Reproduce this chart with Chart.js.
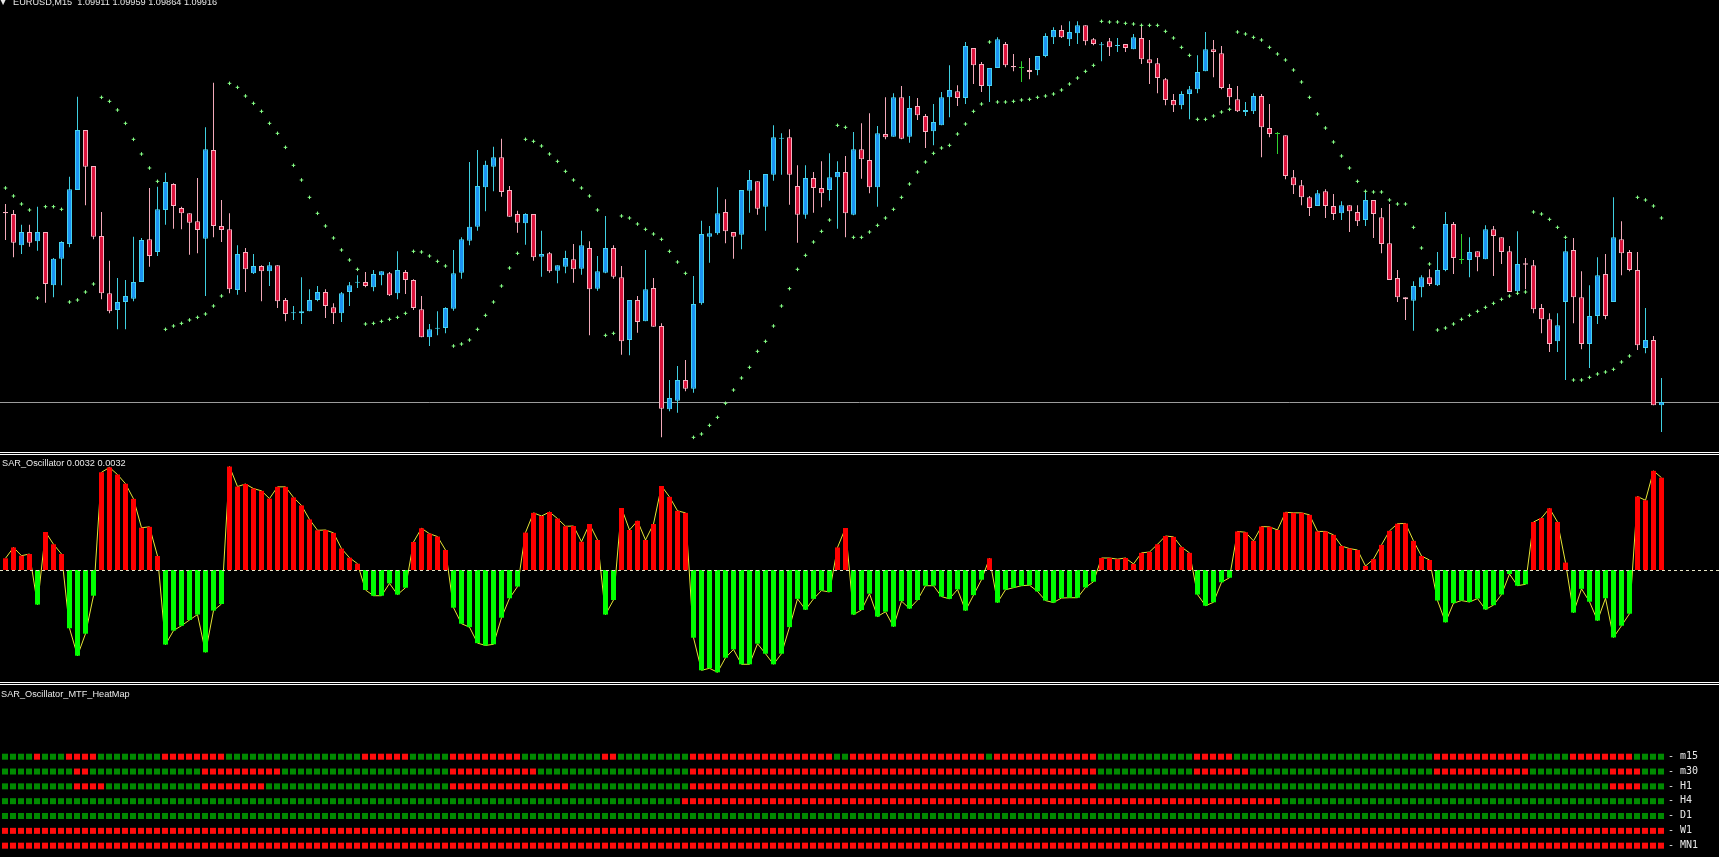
<!DOCTYPE html>
<html><head><meta charset="utf-8">
<script src="https://cdn.jsdelivr.net/npm/chart.js@4.4.1/dist/chart.umd.min.js"></script>
<style>
html,body{margin:0;padding:0;background:#000;}
#wrap{position:relative;width:1719px;height:857px;overflow:hidden;background:#000;}
canvas{position:absolute;left:0;display:block;}
.sep{position:absolute;left:0;width:1719px;height:1px;background:#fff;}
.lbl{position:absolute;white-space:pre;font-family:"Liberation Sans",Arial,sans-serif;font-size:9.2px;line-height:9.2px;color:#e8e8e8;}
.row{position:absolute;left:1668px;white-space:pre;font-family:"DejaVu Sans Mono",monospace;font-size:10px;line-height:10px;color:#e8e8e8;}
</style></head><body>
<div id="wrap">
<canvas id="main" width="1719" height="452" style="top:0;width:1719px;height:452px"></canvas>
<canvas id="osc" width="1719" height="227" style="top:455px;width:1719px;height:227px"></canvas>
<canvas id="heat" width="1719" height="171" style="top:686px;width:1719px;height:171px"></canvas>
<div class="sep" style="top:452px"></div>
<div class="sep" style="top:454px"></div>
<div class="sep" style="top:682px"></div>
<div class="sep" style="top:684px"></div>
<div class="lbl" style="left:0px;top:-3px;font-size:8px;font-family:'DejaVu Sans'">▼</div>
<div class="lbl" style="left:13px;top:-2px">EURUSD,M15  1.09911 1.09959 1.09864 1.09916</div>
<div class="lbl" style="left:2px;top:459px">SAR_Oscillator 0.0032 0.0032</div>
<div class="lbl" style="left:1px;top:690px">SAR_Oscillator_MTF_HeatMap</div>
<div id="rowlabels"></div>
</div>
<script>
// ---------- main chart data (EURUSD M15) ----------
const open = [
1.10201,1.10198,1.10151,1.10171,1.10157,1.10171,1.10091,1.10131,1.10153,1.10234,
1.10324,1.10270,1.10165,1.10079,1.10054,1.10066,1.10071,1.10096,1.10160,1.10141,
1.10204,1.10243,1.10207,1.10199,1.10187,1.10161,1.10294,1.10180,1.10175,1.10084,
1.10141,1.10109,1.10120,1.10112,1.10121,1.10069,1.10049,1.10049,1.10052,1.10069,
1.10081,1.10058,1.10049,1.10081,1.10095,1.10096,1.10088,1.10106,1.10109,1.10079,
1.10111,1.10099,1.10055,1.10013,1.10026,1.10027,1.10056,1.10110,1.10158,1.10179,
1.10238,1.10269,1.10283,1.10234,1.10198,1.10184,1.10198,1.10134,1.10139,1.10113,
1.10119,1.10130,1.10116,1.10147,1.10086,1.10110,1.10147,1.10103,1.10009,1.10069,
1.10037,1.10087,1.10030,1.09905,1.09918,1.09949,1.09936,1.10064,1.10164,1.10169,
1.10201,1.10171,1.10167,1.10233,1.10247,1.10209,1.10257,1.10311,1.10313,1.10240,
1.10197,1.10252,1.10237,1.10234,1.10253,1.10261,1.10197,1.10295,1.10279,1.10238,
1.10318,1.10314,1.10373,1.10314,1.10360,1.10345,1.10322,1.10331,1.10373,1.10382,
1.10372,1.10447,1.10423,1.10390,1.10417,1.10453,1.10420,1.10417,1.10414,1.10414,
1.10435,1.10463,1.10474,1.10460,1.10469,1.10481,1.10460,1.10451,1.10457,1.10450,
1.10453,1.10445,1.10462,1.10430,1.10424,1.10400,1.10369,1.10361,1.10378,1.10385,
1.10412,1.10445,1.10439,1.10387,1.10370,1.10351,1.10352,1.10375,1.10327,1.10318,
1.10316,1.10253,1.10241,1.10223,1.10210,1.10232,1.10210,1.10199,1.10211,1.10201,
1.10189,1.10219,1.10193,1.10154,1.10102,1.10073,1.10068,1.10088,1.10103,1.10091,
1.10114,1.10183,1.10129,1.10129,1.10142,1.10130,1.10175,1.10163,1.10142,1.10082,
1.10124,1.10121,1.10057,1.10040,1.10007,1.10066,1.10144,1.10073,1.10003,1.10045,
1.10108,1.10066,1.10160,1.10141,1.10114,1.09997,1.10009,1.09911];
const high = [
1.10213,1.10204,1.10182,1.10182,1.10209,1.10171,1.10132,1.10157,1.10254,1.10374,
1.10324,1.10270,1.10201,1.10128,1.10102,1.10099,1.10164,1.10162,1.10237,1.10239,
1.10260,1.10244,1.10209,1.10199,1.10252,1.10328,1.10395,1.10219,1.10199,1.10151,
1.10147,1.10138,1.10121,1.10126,1.10121,1.10072,1.10060,1.10103,1.10085,1.10090,
1.10085,1.10064,1.10081,1.10096,1.10106,1.10111,1.10114,1.10112,1.10111,1.10142,
1.10114,1.10100,1.10075,1.10033,1.10052,1.10058,1.10144,1.10163,1.10276,1.10294,
1.10278,1.10299,1.10311,1.10240,1.10203,1.10199,1.10198,1.10173,1.10141,1.10121,
1.10143,1.10153,1.10173,1.10157,1.10135,1.10195,1.10151,1.10120,1.10069,1.10075,
1.10144,1.10102,1.10034,1.09949,1.09970,1.09979,1.10105,1.10188,1.10180,1.10238,
1.10220,1.10171,1.10234,1.10264,1.10247,1.10258,1.10331,1.10319,1.10325,1.10271,
1.10271,1.10261,1.10277,1.10289,1.10277,1.10285,1.10321,1.10334,1.10349,1.10330,
1.10373,1.10379,1.10390,1.10375,1.10372,1.10348,1.10363,1.10381,1.10421,1.10391,
1.10456,1.10447,1.10426,1.10417,1.10463,1.10456,1.10438,1.10427,1.10432,1.10435,
1.10469,1.10478,1.10481,1.10487,1.10487,1.10481,1.10462,1.10456,1.10462,1.10462,
1.10453,1.10468,1.10481,1.10459,1.10432,1.10402,1.10378,1.10382,1.10390,1.10436,
1.10471,1.10459,1.10450,1.10393,1.10390,1.10366,1.10379,1.10378,1.10363,1.10321,
1.10316,1.10264,1.10249,1.10225,1.10234,1.10235,1.10228,1.10217,1.10211,1.10211,
1.10234,1.10219,1.10207,1.10213,1.10114,1.10073,1.10097,1.10106,1.10115,1.10141,
1.10201,1.10186,1.10168,1.10163,1.10142,1.10181,1.10180,1.10163,1.10150,1.10172,
1.10132,1.10129,1.10063,1.10049,1.10049,1.10159,1.10162,1.10112,1.10091,1.10133,
1.10138,1.10223,1.10187,1.10144,1.10141,1.10057,1.10015,1.09952];
const low = [
1.10159,1.10133,1.10138,1.10149,1.10143,1.10065,1.10073,1.10091,1.10148,1.10234,
1.10211,1.10160,1.10070,1.10049,1.10025,1.10025,1.10067,1.10096,1.10119,1.10135,
1.10182,1.10176,1.10175,1.10137,1.10139,1.10075,1.10163,1.10156,1.10079,1.10077,
1.10081,1.10108,1.10067,1.10090,1.10057,1.10037,1.10039,1.10033,1.10052,1.10067,
1.10042,1.10033,1.10036,1.10060,1.10087,1.10088,1.10082,1.10091,1.10075,1.10070,
1.10078,1.10054,1.10013,1.10000,1.10016,1.10019,1.10053,1.10101,1.10151,1.10173,
1.10202,1.10232,1.10224,1.10194,1.10170,1.10152,1.10128,1.10104,1.10110,1.10094,
1.10109,1.10095,1.10107,1.10016,1.10083,1.10109,1.10101,1.09987,1.09986,1.10020,
1.10037,1.10029,1.09863,1.09902,1.09900,1.09932,1.09930,1.10062,1.10125,1.10167,
1.10154,1.10131,1.10145,1.10200,1.10197,1.10173,1.10248,1.10257,1.10212,1.10155,
1.10191,1.10200,1.10208,1.10218,1.10176,1.10163,1.10196,1.10251,1.10229,1.10209,
1.10310,1.10314,1.10310,1.10305,1.10339,1.10297,1.10301,1.10331,1.10343,1.10360,
1.10363,1.10393,1.10381,1.10366,1.10417,1.10418,1.10412,1.10396,1.10400,1.10406,
1.10433,1.10453,1.10462,1.10450,1.10453,1.10451,1.10451,1.10427,1.10435,1.10441,
1.10441,1.10445,1.10423,1.10393,1.10379,1.10361,1.10351,1.10355,1.10340,1.10379,
1.10412,1.10403,1.10385,1.10361,1.10351,1.10345,1.10348,1.10283,1.10313,1.10288,
1.10250,1.10228,1.10211,1.10195,1.10210,1.10192,1.10189,1.10189,1.10171,1.10180,
1.10180,1.10162,1.10139,1.10099,1.10066,1.10039,1.10023,1.10073,1.10090,1.10090,
1.10112,1.10108,1.10123,1.10103,1.10112,1.10130,1.10105,1.10123,1.10081,1.10081,
1.10085,1.10049,1.10019,1.09991,1.09991,1.09949,1.10034,1.09995,1.09967,1.10033,
1.10040,1.10066,1.10106,1.10112,1.09994,1.09989,1.09911,1.09871];
const close = [
1.10199,1.10155,1.10171,1.10155,1.10171,1.10093,1.10131,1.10156,1.10235,1.10324,
1.10269,1.10164,1.10079,1.10052,1.10066,1.10075,1.10096,1.10159,1.10135,1.10205,
1.10246,1.10210,1.10199,1.10185,1.10174,1.10295,1.10180,1.10174,1.10085,1.10138,
1.10115,1.10120,1.10112,1.10121,1.10067,1.10048,1.10050,1.10052,1.10069,1.10081,
1.10060,1.10049,1.10079,1.10091,1.10096,1.10090,1.10108,1.10112,1.10076,1.10114,
1.10099,1.10057,1.10013,1.10025,1.10027,1.10057,1.10109,1.10160,1.10179,1.10240,
1.10272,1.10283,1.10231,1.10194,1.10185,1.10198,1.10133,1.10138,1.10112,1.10121,
1.10132,1.10115,1.10151,1.10085,1.10112,1.10147,1.10104,1.10007,1.10069,1.10036,
1.10085,1.10029,1.09906,1.09922,1.09949,1.09936,1.10063,1.10168,1.10169,1.10199,
1.10172,1.10164,1.10234,1.10249,1.10206,1.10258,1.10313,1.10312,1.10257,1.10197,
1.10252,1.10237,1.10229,1.10253,1.10261,1.10199,1.10295,1.10280,1.10238,1.10319,
1.10313,1.10373,1.10311,1.10357,1.10346,1.10321,1.10336,1.10373,1.10384,1.10372,
1.10450,1.10421,1.10390,1.10417,1.10460,1.10421,1.10418,1.10417,1.10411,1.10435,
1.10465,1.10474,1.10463,1.10471,1.10481,1.10457,1.10453,1.10452,1.10448,1.10451,
1.10447,1.10463,1.10430,1.10424,1.10402,1.10369,1.10361,1.10378,1.10385,1.10411,
1.10445,1.10441,1.10387,1.10373,1.10352,1.10354,1.10375,1.10328,1.10318,1.10318,
1.10255,1.10241,1.10223,1.10207,1.10229,1.10210,1.10198,1.10211,1.10202,1.10187,
1.10219,1.10198,1.10153,1.10099,1.10073,1.10070,1.10090,1.10103,1.10093,1.10114,
1.10183,1.10132,1.10129,1.10141,1.10133,1.10175,1.10165,1.10141,1.10081,1.10123,
1.10122,1.10055,1.10040,1.10003,1.10031,1.10142,1.10073,1.10003,1.10045,1.10106,
1.10045,1.10163,1.10139,1.10114,1.10001,1.10009,1.09911,1.09916];
const sar = [
1.10237,1.10225,1.10213,1.10204,1.10072,1.10209,1.10209,1.10205,1.10066,1.10069,
1.10081,1.10093,1.10373,1.10367,1.10354,1.10334,1.10310,1.10288,1.10267,1.10247,
1.10025,1.10030,1.10034,1.10039,1.10043,1.10048,1.10060,1.10075,1.10394,1.10388,
1.10375,1.10364,1.10352,1.10334,1.10319,1.10298,1.10271,1.10249,1.10223,1.10199,
1.10180,1.10162,1.10144,1.10129,1.10115,1.10033,1.10034,1.10037,1.10040,1.10043,
1.10049,1.10142,1.10141,1.10135,1.10127,1.10120,1.10000,1.10003,1.10009,1.10025,
1.10046,1.10066,1.10090,1.10117,1.10139,1.10310,1.10307,1.10300,1.10288,1.10277,
1.10262,1.10249,1.10237,1.10225,1.10204,1.10016,1.10019,1.10195,1.10192,1.10183,
1.10175,1.10168,1.10160,1.10142,1.10126,1.10109,1.09863,1.09868,1.09881,1.09893,
1.09914,1.09934,1.09952,1.09968,1.09992,1.10007,1.10030,1.10060,1.10086,1.10115,
1.10136,1.10156,1.10172,1.10189,1.10331,1.10328,1.10163,1.10163,1.10171,1.10181,
1.10192,1.10205,1.10223,1.10243,1.10261,1.10276,1.10289,1.10297,1.10301,1.10318,
1.10333,1.10352,1.10363,1.10456,1.10366,1.10366,1.10367,1.10369,1.10370,1.10373,
1.10375,1.10378,1.10384,1.10393,1.10402,1.10412,1.10421,1.10487,1.10486,1.10486,
1.10484,1.10483,1.10481,1.10481,1.10481,1.10472,1.10462,1.10448,1.10436,1.10340,
1.10340,1.10345,1.10351,1.10355,1.10471,1.10468,1.10463,1.10459,1.10448,1.10438,
1.10429,1.10414,1.10396,1.10373,1.10348,1.10327,1.10306,1.10285,1.10267,1.10247,
1.10232,1.10231,1.10231,1.10219,1.10213,1.10213,1.10178,1.10147,1.10123,1.10024,
1.10027,1.10033,1.10040,1.10046,1.10052,1.10058,1.10064,1.10070,1.10075,1.10079,
1.10081,1.10201,1.10198,1.10190,1.10178,1.10163,1.09949,1.09949,1.09953,1.09958,
1.09961,1.09965,1.09976,1.09985,1.10223,1.10219,1.10210,1.10192];
const bidPrice = 1.09916;

// ---------- SAR_Oscillator ----------
const osc = [
0.00041,0.00079,0.00050,0.00056,-0.00121,0.00133,0.00090,0.00056,-0.00204,-0.00300,
-0.00223,-0.00090,0.00342,0.00359,0.00334,0.00302,0.00249,0.00148,0.00151,0.00049,
-0.00261,-0.00212,-0.00195,-0.00175,-0.00156,-0.00288,-0.00142,-0.00119,0.00362,0.00292,
0.00301,0.00285,0.00277,0.00250,0.00291,0.00291,0.00254,0.00226,0.00177,0.00139,
0.00140,0.00130,0.00075,0.00043,0.00022,-0.00070,-0.00090,-0.00090,-0.00047,-0.00086,
-0.00062,0.00098,0.00146,0.00127,0.00117,0.00070,-0.00132,-0.00188,-0.00200,-0.00256,
-0.00264,-0.00260,-0.00167,-0.00099,-0.00058,0.00131,0.00200,0.00189,0.00203,0.00180,
0.00153,0.00154,0.00099,0.00161,0.00105,-0.00156,-0.00105,0.00217,0.00140,0.00172,
0.00105,0.00161,0.00294,0.00256,0.00207,0.00200,-0.00237,-0.00351,-0.00344,-0.00358,
-0.00307,-0.00278,-0.00330,-0.00330,-0.00258,-0.00293,-0.00330,-0.00293,-0.00200,-0.00101,
-0.00139,-0.00101,-0.00072,-0.00077,0.00079,0.00147,-0.00156,-0.00140,-0.00083,-0.00163,
-0.00146,-0.00198,-0.00109,-0.00135,-0.00105,-0.00055,-0.00055,-0.00093,-0.00101,-0.00068,
-0.00142,-0.00088,-0.00034,0.00041,-0.00114,-0.00069,-0.00062,-0.00055,-0.00053,-0.00075,
-0.00107,-0.00114,-0.00098,-0.00097,-0.00097,-0.00061,-0.00041,0.00042,0.00042,0.00038,
0.00042,0.00021,0.00060,0.00063,0.00090,0.00119,0.00116,0.00080,0.00060,-0.00086,
-0.00125,-0.00113,-0.00043,-0.00027,0.00135,0.00132,0.00102,0.00152,0.00151,0.00140,
0.00202,0.00200,0.00200,0.00193,0.00135,0.00135,0.00123,0.00084,0.00075,0.00070,
0.00014,0.00038,0.00088,0.00137,0.00162,0.00163,0.00102,0.00049,0.00035,-0.00107,
-0.00183,-0.00116,-0.00107,-0.00112,-0.00100,-0.00138,-0.00123,-0.00086,-0.00014,-0.00055,
-0.00050,0.00168,0.00182,0.00216,0.00168,0.00026,-0.00149,-0.00066,-0.00111,-0.00177,
-0.00099,-0.00236,-0.00195,-0.00153,0.00257,0.00244,0.00347,0.00323];

// ---------- MTF heat map (run-length: G = green, R = red) ----------
const heatLabels = ['m15','m30','H1','H4','D1','W1','MN1'];
const heatM15 = "G4 R1 G3 R4 G8 R8 G17 R6 G5 R9 G10 R2 G9 R18 G2 R17 G1 R13 G12 R5 G25 R12 G5 R8 G4";
const heatM30 = "G9 R2 G14 R10 G21 R11 G19 R51 G12 R7 G23 R12 G10 R4 G3";
const heatH1  = "G9 R4 G12 R8 G23 R15 G15 R51 G64 R4 G3";
const heatH4  = "G85 R75 G48";
const heatD1  = "G208";
const heatW1  = "R208";
const heatMN1 = "R208";

// ---------- build ----------
const N = close.length;
const idx = close.map((_, i) => i);
const X_MIN = -0.6875, X_MAX = 214.1875;

const BULL_FILL = '#1c93f2', BULL_EDGE = '#45d2ee', BULL_WICK = '#3fcfe0';
const BEAR_FILL = '#dc143c', BEAR_EDGE = '#f7b2c2', BEAR_WICK = '#f3a9b9';
const DOJI = '#2fd12f';
const kind = idx.map(i => close[i] > open[i] ? 1 : (close[i] < open[i] ? -1 : 0));
const pick = (k, a, b, c) => k > 0 ? a : (k < 0 ? b : c);

const base = {
  responsive: false, maintainAspectRatio: false, animation: false, devicePixelRatio: 1,
  events: [], layout: { padding: 0, autoPadding: false },
  plugins: { legend: { display: false }, tooltip: { enabled: false }, title: { display: false } }
};

const bidLine = {
  id: 'bidLine',
  beforeDatasetsDraw(chart) {
    const { ctx, chartArea } = chart;
    const y = Math.round(chart.scales.y.getPixelForValue(bidPrice)) + 0.5;
    ctx.save(); ctx.strokeStyle = '#9c9c9c'; ctx.lineWidth = 1;
    ctx.beginPath(); ctx.moveTo(0, y); ctx.lineTo(chart.width, y); ctx.stroke();
    ctx.restore();
  }
};

new Chart(document.getElementById('main'), {
  type: 'bar',
  data: { datasets: [
    { type: 'scatter', data: idx.map(i => ({ x: i, y: sar[i] })), pointStyle: 'cross',
      pointRadius: 1.8, pointBorderWidth: 1, borderColor: '#86ff86', backgroundColor: '#86ff86', order: 0 },
    { data: idx.map(i => ({ x: i, y: [open[i], close[i]] })), barThickness: 5, minBarLength: 1,
      grouped: false, inflateAmount: 0, borderSkipped: false, borderWidth: 1,
      backgroundColor: kind.map(k => pick(k, BULL_FILL, BEAR_FILL, DOJI)),
      borderColor: kind.map(k => pick(k, BULL_EDGE, BEAR_EDGE, DOJI)), order: 1 },
    { data: idx.map(i => ({ x: i, y: [low[i], high[i]] })), barThickness: 1,
      grouped: false, inflateAmount: 0, borderWidth: 0,
      backgroundColor: kind.map(k => pick(k, BULL_WICK, BEAR_WICK, DOJI)), order: 2 }
  ]},
  options: Object.assign({}, base, {
    scales: {
      x: { type: 'linear', min: X_MIN, max: X_MAX, display: false, offset: false },
      y: { type: 'linear', min: 1.09841, max: 1.10519, display: false }
    }
  }),
  plugins: [bidLine]
});

const zeroLine = {
  id: 'zeroLine',
  afterDatasetsDraw(chart) {
    const { ctx } = chart;
    const y = Math.round(chart.scales.y.getPixelForValue(0)) + 0.5;
    ctx.save(); ctx.strokeStyle = '#e6e6c8'; ctx.lineWidth = 1; ctx.setLineDash([3, 3]);
    ctx.beginPath(); ctx.moveTo(0, y); ctx.lineTo(chart.width, y); ctx.stroke();
    ctx.restore();
  }
};

new Chart(document.getElementById('osc'), {
  type: 'bar',
  data: { datasets: [
    { type: 'line', data: idx.map(i => ({ x: i, y: osc[i] })), borderColor: 'rgba(255,255,60,0.9)',
      borderWidth: 1, pointRadius: 0, tension: 0, fill: false, order: 2 },
    { data: idx.map(i => ({ x: i, y: osc[i] })), barThickness: 5, grouped: false, inflateAmount: 0,
      borderWidth: 0, backgroundColor: osc.map(v => v > 0 ? '#ff0000' : '#00ff00'), order: 1 }
  ]},
  options: Object.assign({}, base, {
    scales: {
      x: { type: 'linear', min: X_MIN, max: X_MAX, display: false, offset: false },
      y: { type: 'linear', min: -0.00392, max: 0.004025, display: false }
    }
  }),
  plugins: [zeroLine]
});

const decode = s => s.split(' ').flatMap(t => Array(parseInt(t.slice(1), 10)).fill(t[0]));
const heatRows = [heatM15, heatM30, heatH1, heatH4, heatD1, heatW1, heatMN1].map(decode);
const heatPts = [], heatCols = [];
heatRows.forEach((row, r) => row.forEach((c, i) => {
  heatPts.push({ x: i, y: r });
  heatCols.push(c === 'R' ? '#ff0c0c' : '#008a00');
}));

new Chart(document.getElementById('heat'), {
  type: 'scatter',
  data: { datasets: [{ data: heatPts, pointStyle: 'rect', pointRadius: 4.243, pointBorderWidth: 0,
    backgroundColor: heatCols, borderColor: heatCols }] },
  options: Object.assign({}, base, {
    scales: {
      x: { type: 'linear', min: -0.625, max: 214.25, display: false },
      y: { type: 'linear', reverse: true, min: -4.767, max: 6.764, display: false }
    }
  })
});

// row labels on the right of the heat map
const rowCenters = [756.7, 771.6, 786.5, 801.3, 816.1, 830.9, 845.8];
const rl = document.getElementById('rowlabels');
heatLabels.forEach((t, r) => {
  const d = document.createElement('div');
  d.className = 'row';
  d.style.top = (rowCenters[r] - 5.9) + 'px';
  d.textContent = '- ' + t;
  rl.appendChild(d);
});
</script>
</body></html>
